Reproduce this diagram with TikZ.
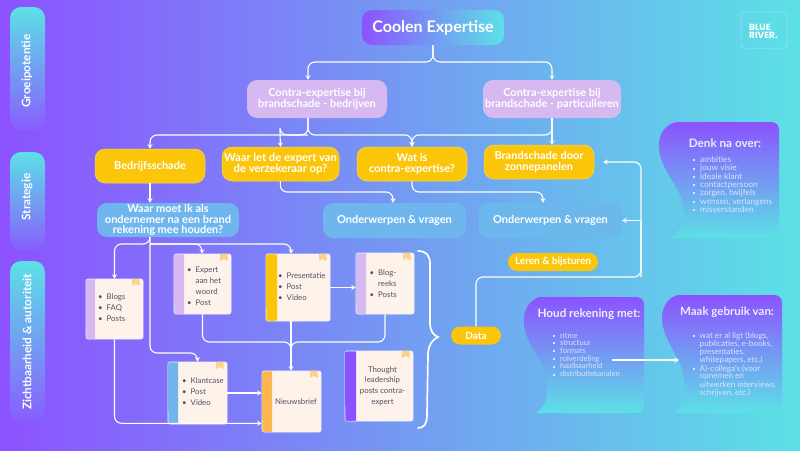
\documentclass[tikz,border=0pt]{standalone}
\usepackage{fontspec}
\setmainfont{Lato}
\usetikzlibrary{arrows.meta}
\definecolor{bgl}{HTML}{8C52FF}
\definecolor{bgr}{HTML}{5CE1E6}
\definecolor{lav}{HTML}{D6B9F0}
\definecolor{amber}{HTML}{FBC609}
\definecolor{skyb}{HTML}{6FB6EE}
\definecolor{skyc}{HTML}{6CB7EC}
\definecolor{paper}{HTML}{FDF3EB}
\definecolor{ink}{HTML}{545060}
\definecolor{flagc}{HTML}{FBD48A}
\definecolor{softtxt}{HTML}{DCE2FB}
\definecolor{cardo}{HTML}{FDB650}
\newcommand\fs[2]{\fontsize{#1}{#2}\selectfont}
\newcommand\li{\textbullet&}
\newcommand\sq{\rule[1.2pt]{2pt}{2pt}&}
\tikzset{
 wire/.style={draw=white,line width=1.1pt,rounded corners=7pt,-{Stealth[length=4.5pt,width=5pt]}},
 wirep/.style={draw=white,line width=1.1pt,rounded corners=7pt},
 box/.style={rounded corners=10pt,inner sep=0pt,align=center,text=white,font=\bfseries},
 lavbox/.style={box,fill=lav,minimum height=38pt},
 ambox/.style={box,fill=amber,draw=amber!70!white,line width=.5pt,minimum height=34pt},
 skybox/.style={box,fill=skyb,minimum height=35pt},
 side/.style={rounded corners=11pt,top color=bgr,bottom color=bgl!92!bgr,minimum width=35pt,inner sep=0pt},
 sidetxt/.style={rotate=90,text=white,font=\bfseries\fs{11.8}{13},inner sep=0pt},
 card/.style={rounded corners=2pt,fill=paper,draw=white!80!lav,line width=.6pt,inner sep=0pt,text=ink,align=center},
 pill/.style={rounded corners=9pt,fill=amber,inner sep=0pt,text=white,font=\bfseries\fs{10}{11}},
}
% name, x1, y1, x2, y2, stripe colour, stripe x
\newcommand\cardbox[8][]{%
 \node[card,minimum width=#4pt-#2pt,minimum height=#5pt-#3pt,#1] (#8) at ({(#2+#4)/2},{(#3+#5)/2}) {};
 \fill[#6] (#7,#3+.3) -- (#2+2,#3+.3) arc[start angle=90,end angle=180,radius=2pt] -- (#2+.3,#5-2) arc[start angle=180,end angle=270,radius=2pt] -- (#7,#5-.3) -- cycle;
 \fill[flagc] (#4-11,#3) -- (#4-3.5,#3) -- (#4-3.5,#3+7) -- (#4-7.25,#3+5) -- (#4-11,#3+7) -- cycle;
}
\begin{document}
\begin{tikzpicture}[x=1pt,y=-1pt]
\useasboundingbox (0,0) rectangle (800,450);
\shade[left color=bgl,right color=bgr] (0,0) rectangle (800,450);

% side pills
\node[side,minimum height=123pt] (s1) at (27.5,68.5) {};
\node[side,minimum height=98pt] (s2) at (27.5,201) {};
\node[side,minimum height=161pt] (s3) at (27.5,341.5) {};
\node[sidetxt] (s1t) at (27,71) {Groeipotentie};
\node[sidetxt] (s2t) at (27,197) {Strategie};
\node[sidetxt] (s3t) at (27,342) {Zichtbaarheid \& autoriteit};

% logo
\node[draw=white!35!bgr,rounded corners=3pt,line width=.5pt,minimum width=46pt,minimum height=36pt,inner sep=0pt] (logo) at (764,30) {};
\node[anchor=west,inner sep=0pt,text=white,align=left,font=\fontspec{Poppins}\bfseries\fs{9}{8}] (logot) at (749,31) {BLUE\\RIVER.};

% top
\node[box,left color=bgl,right color=bgr,minimum width=142pt,minimum height=35pt,font=\bfseries\fs{16}{18}] (top) at (433,27.5) {Coolen Expertise};
\node[lavbox,minimum width=140pt,font=\bfseries\fs{11}{10.5}] (p1) at (317,99) {Contra-expertise bij\\brandschade - bedrijven};
\node[lavbox,minimum width=138pt,font=\bfseries\fs{11}{10.5}] (p2) at (552,99) {Contra-expertise bij\\brandschade - particulieren};

% amber
\node[ambox,minimum width=110pt,font=\bfseries\fs{11}{11}] (a1) at (150,166) {Bedrijfsschade};
\node[ambox,minimum width=117pt,font=\bfseries\fs{11.2}{11}] (a2) at (280.5,164) {Waar let de expert van\\de verzekeraar op?};
\node[ambox,minimum width=110pt,font=\bfseries\fs{11}{11}] (a3) at (412,164) {Wat is\\contra-expertise?};
\node[ambox,minimum width=110pt,font=\bfseries\fs{11}{11}] (a4) at (539,162) {Brandschade door\\zonnepanelen};

% sky
\node[skybox,minimum width=142pt,minimum height=34pt,font=\bfseries\fs{11}{10.8}] (q) at (168,220) {Waar moet ik als\\ondernemer na een brand\\rekening mee houden?};
\node[skybox,minimum width=143pt,font=\bfseries\fs{11}{12}] (o1) at (394.5,220.5) {Onderwerpen \& vragen};
\node[skybox,fill=skyc,minimum width=143pt,font=\bfseries\fs{11}{12}] (o2) at (550.5,220.5) {Onderwerpen \& vragen};

% cards
\cardbox{86}{279}{143}{339}{lav}{95}{c1}
\cardbox{174}{254}{231}{314}{lav}{184}{c2}
\cardbox{168}{362}{227}{424}{skyb}{178}{c3}
\cardbox{266}{254}{330}{321}{amber}{277}{c4}
\cardbox{356}{253}{414}{314}{lav}{366}{c5}
\cardbox{262}{371}{321}{432}{cardo}{272}{c6}
\cardbox{345}{351}{413}{421}{bgl}{356}{c7}

\node[anchor=base west,inner sep=0pt,text=ink] (l1) at (98,299.5) {\fs{7.8}{11}\begin{tabular}[t]{@{}l@{\hspace{4pt}}l@{}}\li Blogs\\\li FAQ\\\li Posts\end{tabular}};
\node[anchor=base west,inner sep=0pt,text=ink] (l2) at (187,272.5) {\fs{7.8}{11}\begin{tabular}[t]{@{}l@{\hspace{4pt}}l@{}}\li Expert\\&aan het\\&woord\\\li Post\end{tabular}};
\node[anchor=base west,inner sep=0pt,text=ink] (l3) at (182,383.5) {\fs{7.8}{11}\begin{tabular}[t]{@{}l@{\hspace{4pt}}l@{}}\li Klantcase\\\li Post\\\li Video\end{tabular}};
\node[anchor=base west,inner sep=0pt,text=ink] (l4) at (278,278) {\fs{7.8}{11}\begin{tabular}[t]{@{}l@{\hspace{4pt}}l@{}}\li Presentatie\\\li Post\\\li Video\end{tabular}};
\node[anchor=base west,inner sep=0pt,text=ink] (l5) at (369.5,275) {\fs{7.8}{11}\begin{tabular}[t]{@{}l@{\hspace{4pt}}l@{}}\li Blog-\\&reeks\\\li Posts\end{tabular}};
\node[inner sep=0pt,text=ink,font=\fs{7.8}{11}] (l6) at (296,402) {Nieuwsbrief};
\node[inner sep=0pt,text=ink,align=center,font=\fs{7.8}{10.8}] (l7) at (382.5,386) {Thought\\leadership\\posts contra-\\expert};

% pills
\node[pill,minimum width=50pt,minimum height=18pt] (data) at (476,335.5) {Data};
\node[pill,minimum width=90pt,minimum height=18pt] (leren) at (553,262) {Leren \& bijsturen};

% blobs
\shade[top color=bgl,bottom color=bgr] (677,122) -- (771,122) .. controls (776,122) and (779,125) .. (779,130) -- (779,238) -- (672,238) .. controls (680,230) and (685,222) .. (683,205) .. controls (680,185) and (659,170) .. (659,145) .. controls (659,133) and (666,124) .. (677,122) -- cycle;
\shade[top color=bgl,bottom color=bgr] (540,297) -- (636,297) .. controls (641,297) and (644,300) .. (644,305) -- (644,405) .. controls (644,410) and (641,413) .. (636,413) -- (536,413) .. controls (544,407) and (549,398) .. (547,380) .. controls (545,360) and (524,345) .. (524,320) .. controls (524,308) and (531,299) .. (540,297) -- cycle;
\shade[top color=bgl,bottom color=bgr] (678,295) -- (774,295) .. controls (779,295) and (782,298) .. (782,303) -- (782,405) .. controls (782,410) and (779,413) .. (774,413) -- (674,413) .. controls (682,407) and (686,398) .. (684,378) .. controls (682,358) and (662,340) .. (662,318) .. controls (662,306) and (669,297) .. (678,295) -- cycle;

\node[inner sep=0pt,text=softtxt!60!white,font=\bfseries\fs{11.7}{14}] (b1t) at (725,143) {Denk na over:};
\node[inner sep=0pt,text=softtxt!60!white,font=\bfseries\fs{11.7}{14}] (b2t) at (589,314) {Houd rekening met:};
\node[inner sep=0pt,text=softtxt!60!white,font=\bfseries\fs{11.5}{14}] (b3t) at (727,312) {Maak gebruik van:};

\node[anchor=base west,inner sep=0pt,text=softtxt] (b1l) at (693,162.5) {\fs{8.4}{7.45}\begin{tabular}[t]{@{}l@{\hspace{5pt}}l@{}}\sq ambities\\\sq jouw visie\\\sq ideale klant\\\sq contactpersoon\\\sq zorgen, twijfels\\\sq wensen, verlangens\\\sq misverstanden\end{tabular}};
\node[anchor=base west,inner sep=0pt,text=softtxt] (b2l) at (553,338) {\fs{7.6}{7.5}\begin{tabular}[t]{@{}l@{\hspace{5pt}}l@{}}\sq ritme\\\sq structuur\\\sq formats\\\sq rolverdeling\\\sq haalbaarheid\\\sq distributiekanalen\end{tabular}};
\node[anchor=base west,inner sep=0pt,text=softtxt] (b3l) at (692.5,338) {\fs{8.1}{7.5}\begin{tabular}[t]{@{}l@{\hspace{5pt}}l@{}}\sq wat er al ligt (blogs,\\&publicaties, e-books,\\&presentaties,\\&whitepapers, etc.)\\\sq AI-collega's (voor\\&opnemen en\\&uitwerken interviews,\\&schrijven, etc.)\end{tabular}};

% connector coordinates
\coordinate (j1) at (433,62);
\coordinate (j2) at (308,135);
\coordinate (j3) at (412,135);
\coordinate (j4) at (280,135);
\coordinate (j5) at (552,125);
\coordinate (k2) at (280,192);
\coordinate (k3) at (412,192);
\coordinate (r1) at (150,244);
\coordinate (r2) at (202,244);
\coordinate (r3) at (150,353);
\coordinate (m1) at (291,342);
\coordinate (bx) at (476,277);
\coordinate (by) at (641,277);
\coordinate (h1) at (612,360);
\coordinate (h2) at (679,360);

% connectors
\draw[wire] (top.south) -- (j1) -| ([xshift=-9pt]p1.north);
\draw[wire] (top.south) -- (j1) -| (p2.north);
\draw[wire] ([xshift=-9pt]p1.south) -- (j2) -| (a1.north);
\draw[wire] (j2) -| (j4) -- ([yshift=-.1pt]a2.north);
\draw[wire] ([xshift=-9pt]p1.south) -- (j2) -| (a3.north);
\draw[wire] (p2.south) -- (a4.north -| p2.south);
\draw[wire] (j5) |- (j3) -- (a3.north);
\draw[wire] (a1.south) -- ([xshift=-18pt]q.north);
\draw[wire] (a2.south) -- (k2) -| ([xshift=-1.5pt]o1.north);
\draw[wire] (a3.south) -- (k3) -| ([xshift=-7.5pt]o2.north);
\draw[wire] ([xshift=-18pt]q.south) -- (r1) -| (c1.north);
\draw[wire] (r1) -- (r2) -- (c2.north -| r2);
\draw[wire] (r1) -| ([xshift=-7pt]c4.north);
\draw[wire] ([xshift=-18pt]q.south) -- (r3) -| (c3.north);
\draw[wire] (c4.east) -- (c5.west |- c4.east);
\draw[wire] (c3.east) -- (c6.west |- c3.east);
\draw[wire] (c1.south) |- ([yshift=9pt]c6.south west);
\draw[wire] ([xshift=-7pt]c4.south) -- ([xshift=-.5pt]c6.north);
\draw[wirep] (c2.south) |- (m1) -- +(0,6);
\draw[wirep] (c5.south) |- (m1) -- +(0,6);
\draw[wirep] (data.north) -- (bx) -- (by) -- +(0,-56);
\draw[wire] (by) -- (by |- a4.east) -- ([xshift=9pt]a4.east);
\draw[wire] (by |- o2.east) -- (o2.east);
\draw[wire] (h1) -- (h2);

% brace
\draw[white,line width=1.7pt,line cap=round] (418,251) .. controls (426,251) and (430,255) .. (430,264) -- (430,322) .. controls (430,331) and (433,335) .. (438,337) .. controls (433,339) and (428,345) .. (428,355) -- (427,415) .. controls (427,424) and (424,428) .. (418,428);
\end{tikzpicture}
\end{document}
